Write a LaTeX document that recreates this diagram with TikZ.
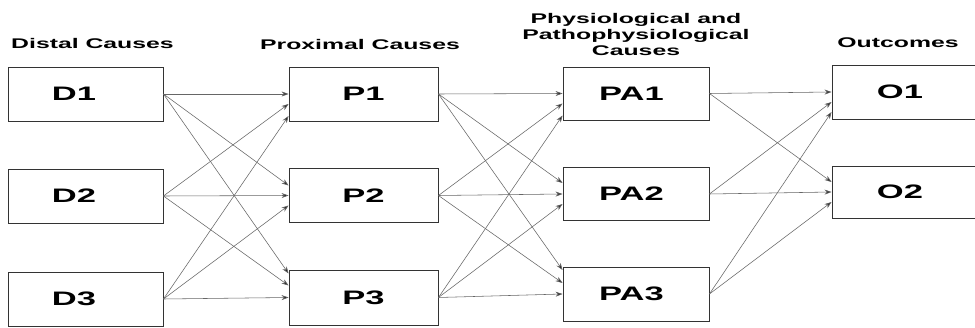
\documentclass[tikz,border=0pt]{standalone}
\usepackage{fontspec}
\setmainfont{Liberation Sans}[FakeStretch=1.77]
\usetikzlibrary{arrows.meta}
\tikzset{
  box/.style={draw=black!80, line width=0.9pt, rectangle, minimum height=54pt, inner sep=0pt,
    font=\fontsize{19.5}{20}\selectfont\bfseries},
  head/.style={font=\fontsize{14}{16}\selectfont\bfseries, inner sep=0pt, align=center},
  link/.style={draw=black!60, line width=0.55pt, -{Stealth[length=7pt,width=5pt,fill=black!85]}},
}
\begin{document}
\begin{tikzpicture}[x=1pt,y=1pt]
\useasboundingbox (0,0) rectangle (975,327);
\fill[white] (0,0) rectangle (975,327);
\begin{scope}
\clip (0,0) rectangle (975,327);
% headers
\node[head, anchor=base] (hD) at (92.5,278.5) {Distal Causes};
\node[head, anchor=base] (hP) at (360,277.5) {Proximal Causes};
\node[head, anchor=north] (hPA) at (636,314) {Physiological and\\Pathophysiological\\Causes};
\node[head, anchor=base] (hO) at (898,279) {Outcomes};
% boxes
\node[box, minimum width=155pt] (D1) at (85.5,233) {\hspace*{-23pt}D1};
\node[box, minimum width=155pt] (D2) at (85.5,131) {\hspace*{-23pt}D2};
\node[box, minimum width=155pt] (D3) at (85.5,28) {\hspace*{-23pt}D3};
\node[box, minimum width=149pt] (P1) at (363.5,233) {P1};
\node[box, minimum width=149pt] (P2) at (363.5,131.5) {P2};
\node[box, minimum width=149pt, minimum height=55pt] (P3) at (363.5,29.5) {P3};
\node[box, minimum width=146pt, minimum height=53pt] (PA1) at (636,233.5) {\hspace*{-9pt}PA1};
\node[box, minimum width=146pt, minimum height=53pt] (PA2) at (636,133) {\hspace*{-9pt}PA2};
\node[box, minimum width=146pt, minimum height=54pt] (PA3) at (636,33) {\hspace*{-9pt}PA3};
\node[box, minimum width=158pt] (O1) at (911,235) {\hspace*{-22pt}O1};
\node[box, minimum width=158pt, minimum height=52pt] (O2) at (911,135) {\hspace*{-22pt}O2};
% D -> P
\draw[link] (D1.east) -- ([yshift=0pt]P1.west);
\draw[link] (D2.east) -- ([yshift=-10pt]P1.west);
\draw[link] (D3.east) -- ([yshift=-22pt]P1.west);
\draw[link] (D1.east) -- ([yshift=10pt]P2.west);
\draw[link] (D2.east) -- ([yshift=0pt]P2.west);
\draw[link] (D3.east) -- ([yshift=-10pt]P2.west);
\draw[link] (D1.east) -- ([yshift=24pt]P3.west);
\draw[link] (D2.east) -- ([yshift=12pt]P3.west);
\draw[link] (D3.east) -- ([yshift=0pt]P3.west);
% P -> PA
\draw[link] (P1.east) -- ([yshift=0pt]PA1.west);
\draw[link] (P2.east) -- ([yshift=-10pt]PA1.west);
\draw[link] (P3.east) -- ([yshift=-22pt]PA1.west);
\draw[link] (P1.east) -- ([yshift=11pt]PA2.west);
\draw[link] (P2.east) -- ([yshift=0pt]PA2.west);
\draw[link] (P3.east) -- ([yshift=-10pt]PA2.west);
\draw[link] (P1.east) -- ([yshift=24pt]PA3.west);
\draw[link] (P2.east) -- ([yshift=11pt]PA3.west);
\draw[link] (P3.east) -- ([yshift=0pt]PA3.west);
% PA -> O
\draw[link] (PA1.east) -- ([yshift=0pt]O1.west);
\draw[link] (PA2.east) -- ([yshift=-10pt]O1.west);
\draw[link] (PA3.east) -- ([yshift=-20pt]O1.west);
\draw[link] (PA1.east) -- ([yshift=10pt]O2.west);
\draw[link] (PA2.east) -- ([yshift=0pt]O2.west);
\draw[link] (PA3.east) -- ([yshift=-10pt]O2.west);
\end{scope}
\end{tikzpicture}
\end{document}
